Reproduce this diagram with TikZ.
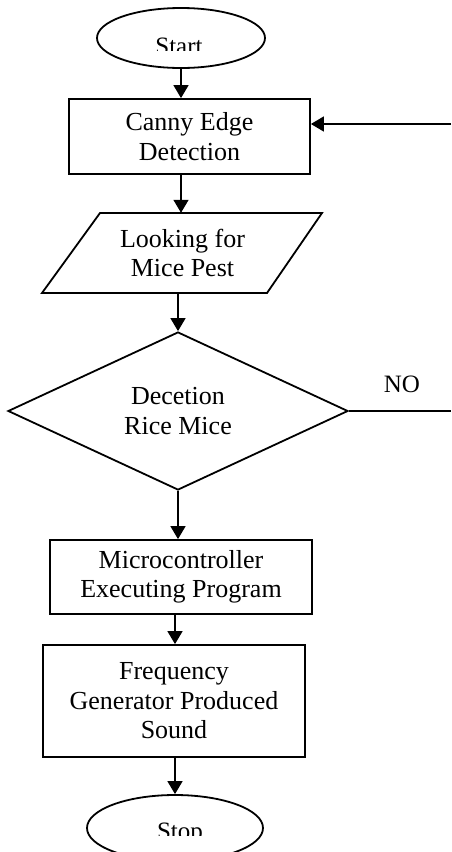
\documentclass[tikz,border=0pt]{standalone}
\usepackage{fontspec}
\setmainfont{Liberation Serif}
\usetikzlibrary{arrows.meta,shapes.geometric,calc}
\begin{document}
\begin{tikzpicture}[x=1pt,y=-1pt,
  shp/.style={draw=black,line width=1.8pt,inner sep=0pt},
  boxnode/.style={shp,rectangle,align=center,font=\fontsize{26}{29.5}\selectfont},
  term/.style={shp,ellipse},
  ghost/.style={rectangle,inner sep=0pt,align=center,font=\fontsize{26}{29.5}\selectfont},
  lbl/.style={inner sep=0pt,font=\fontsize{25}{29}\selectfont},
  arr/.style={line width=1.5pt,-{Triangle[length=13pt,width=15pt]}},
  plain/.style={line width=1.5pt}]
\useasboundingbox (0,0) rectangle (451,852);
% Start
\node[term,minimum width=168pt,minimum height=60pt] (start) at (181,38) {};
\begin{scope}
  \clip (90,20) rectangle (280,50.5);
  \node[lbl,anchor=base] (starttxt) at (179,54) {Start};
\end{scope}
% Canny
\node[boxnode,minimum width=241pt,minimum height=75pt] (canny) at (189.5,136.5) {Canny Edge\\Detection};
% Parallelogram
\node[ghost,minimum width=222pt,minimum height=80pt] (para) at (182.5,253) {Looking for\\Mice Pest};
\draw[shp,line join=miter] (100,213) -- (322,213) -- (267,293) -- (42,293) -- cycle;
% Decision
\node[shp,diamond,minimum width=340pt,minimum height=158pt,align=center,font=\fontsize{26}{30}\selectfont] (dec) at (178,411) {Decetion\\Rice Mice};
\node[lbl,anchor=base] (no) at (402,392) {NO};
\coordinate (noend) at (451,411);
\draw[plain] (dec.east) -- (noend);
% Microcontroller
\node[boxnode,minimum width=262pt,minimum height=74pt] (micro) at (181,577) {Microcontroller\\Executing Program};
% Frequency
\node[boxnode,minimum width=262pt,minimum height=112pt] (freq) at (174,701) {Frequency\\Generator Produced\\Sound};
% Stop
\node[term,minimum width=176pt,minimum height=66pt] (stop) at (175,828) {};
\begin{scope}
  \clip (80,800) rectangle (280,835.5);
  \node[lbl,anchor=base] (stoptxt) at (180,839) {Stop};
\end{scope}
% incoming arrow
\coordinate (inbeg) at (451,124);
\draw[arr] (inbeg) -- (inbeg -| canny.east);
% flow arrows
\draw[arr] (start.south) -- (start.south |- canny.north);
\draw[arr] (start.south |- canny.south) -- (start.south |- para.north);
\draw[arr] (dec.north |- para.south) -- (dec.north);
\draw[arr] (dec.south) -- (dec.south |- micro.north);
\draw[arr] (stop.north |- micro.south) -- (stop.north |- freq.north);
\draw[arr] (stop.north |- freq.south) -- (stop.north);
\end{tikzpicture}
\end{document}
